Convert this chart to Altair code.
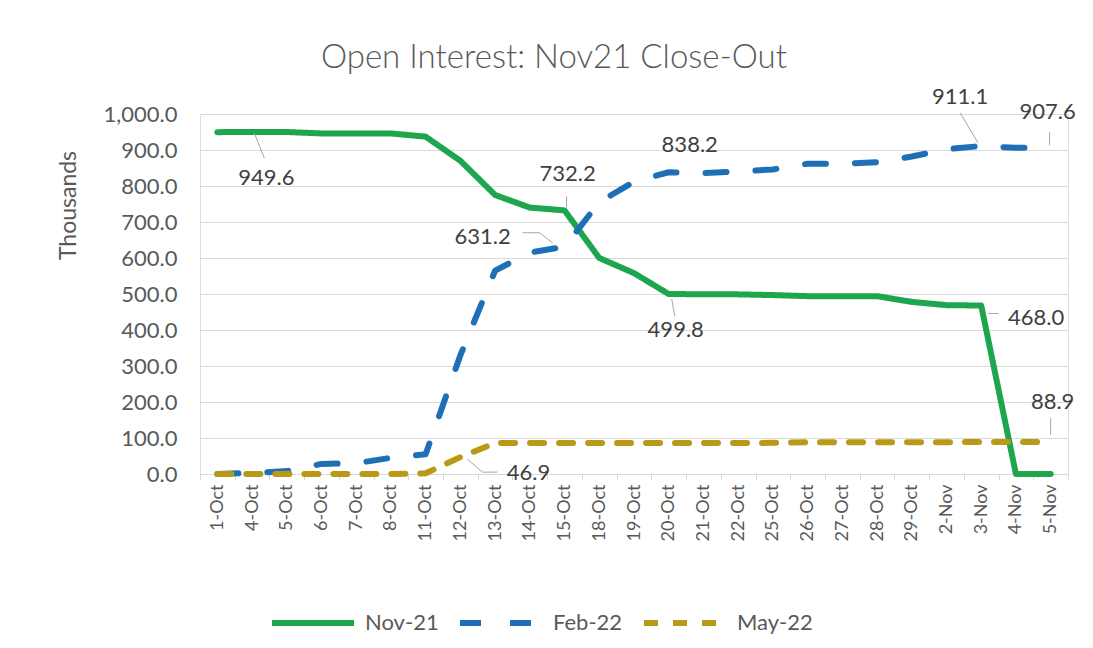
import altair as alt
import pandas as pd

# ---------------- data ----------------
dates = ["1-Oct", "4-Oct", "5-Oct", "6-Oct", "7-Oct", "8-Oct", "11-Oct", "12-Oct",
         "13-Oct", "14-Oct", "15-Oct", "18-Oct", "19-Oct", "20-Oct", "21-Oct", "22-Oct",
         "25-Oct", "26-Oct", "27-Oct", "28-Oct", "29-Oct", "2-Nov", "3-Nov", "4-Nov", "5-Nov"]

nov21 = [949.6, 950.0, 950.0, 946.0, 946.0, 946.0, 937.0, 870.0, 775.0, 740.0, 732.2, 600.0,
         558.0, 499.8, 499.5, 499.0, 497.0, 494.0, 494.0, 494.0, 478.0, 469.0, 468.0, 0.0, 0.0]
feb22 = [0.0, 3.0, 8.0, 28.0, 30.0, 45.0, 55.0, 330.0, 565.0, 615.0, 631.2, 755.0,
         812.0, 838.2, 836.0, 840.0, 846.0, 862.0, 862.0, 866.0, 882.0, 902.0, 911.1, 906.0, 907.6]
may22 = [0.0, 0.0, 0.0, 0.0, 0.0, 0.0, 2.0, 46.9, 86.0, 86.0, 86.0, 86.0,
         86.0, 86.0, 86.0, 86.0, 86.5, 88.0, 88.0, 88.0, 88.0, 88.5, 88.8, 88.9, 88.9]

series_names = ["Nov-21", "Feb-22", "May-22"]
series_values = [nov21, feb22, may22]
y_ticks = [0, 100, 200, 300, 400, 500, 600, 700, 800, 900, 1000]

# labelled points: (series, date)
label_points = [("Nov-21", "1-Oct"), ("Nov-21", "15-Oct"), ("Nov-21", "20-Oct"),
                ("Nov-21", "3-Nov"), ("Feb-22", "15-Oct"), ("Feb-22", "20-Oct"),
                ("Feb-22", "3-Nov"), ("Feb-22", "5-Nov"), ("May-22", "12-Oct"),
                ("May-22", "5-Nov")]

# ---------------- styles ----------------
colors = ["#1EA64E", "#1F6FB6", "#B89A16"]
dashes = [[1, 0], [21, 29], [14, 15]]
FONT = "Lato"
GREY = "#595959"
LW = 6
# label offsets (dx, dy) in pixels from the data point
label_offsets = {
    ("Nov-21", "1-Oct"): (49, 46),
    ("Nov-21", "15-Oct"): (3, -36),
    ("Nov-21", "20-Oct"): (7, 36),
    ("Nov-21", "3-Nov"): (55, 12),
    ("Feb-22", "15-Oct"): (-82, -10),
    ("Feb-22", "20-Oct"): (21, -27),
    ("Feb-22", "3-Nov"): (-21, -49),
    ("Feb-22", "5-Nov"): (-3, -35),
    ("May-22", "12-Oct"): (68, 16),
    ("May-22", "5-Nov"): (2, -40),
}
# leader-line segments (x1, y1, x2, y2) as pixel offsets from the data point
leader_offsets = {
    ("Nov-21", "1-Oct"): [(37, 1, 47, 26)],
    ("Nov-21", "15-Oct"): [(2, -14, 2, -3)],
    ("Nov-21", "20-Oct"): [(3, 5, 6, 22)],
    ("Nov-21", "3-Nov"): [(7, 8, 17, 8)],
    ("Feb-22", "15-Oct"): [(-42, -14, -25, -14), (-25, -14, -12, -4)],
    ("Feb-22", "3-Nov"): [(-21, -33, -3, -3)],
    ("Feb-22", "5-Nov"): [(-1, -15, -1, -2)],
    ("May-22", "12-Oct"): [(7, 2, 22, 15), (22, 15, 37, 15)],
    ("May-22", "5-Nov"): [(0, -24, 0, -7)],
}

rows = []
for name, vals in zip(series_names, series_values):
    for d, v in zip(dates, vals):
        rows.append({"date": d, "value": v, "series": name})
df = pd.DataFrame(rows)

W, H = 868, 360

x_enc = alt.X(
    "date:N", sort=dates, bandPosition=0.5,
    scale=alt.Scale(type="band", paddingInner=0, paddingOuter=0),
    axis=alt.Axis(title=None, labelAngle=270, tickBand="extent", labelFont=FONT,
                  labelFontSize=18, labelColor=GREY, domainColor="#d9d9d9",
                  tickColor="#d9d9d9", tickSize=6, labelPadding=4),
)
y_enc = alt.Y(
    "value:Q", scale=alt.Scale(domain=[0, 1000], nice=False),
    axis=alt.Axis(values=y_ticks, format=",.1f", title="Thousands", grid=True,
                  gridColor="#d9d9d9", domain=False, ticks=False, labelFont=FONT,
                  labelFontSize=22, labelColor=GREY, labelPadding=23,
                  labelOverlap=False,
                  titleFont=FONT, titleFontSize=23, titleFontWeight="normal",
                  titleColor=GREY, titleAngle=270, titleX=-132, titleY=91,
                  titleAlign="center", titleBaseline="middle"),
)

legend = alt.Legend(title=None, orient="none", legendX=69, legendY=465,
                    direction="horizontal", symbolType="stroke", symbolSize=6724,
                    symbolStrokeWidth=LW, labelFont=FONT, labelFontSize=22,
                    labelColor=GREY, columnPadding=9, labelOffset=8, padding=0)

lines = alt.Chart(df).mark_line(strokeWidth=LW, strokeCap="round",
                                strokeJoin="round").encode(
    x=x_enc, y=y_enc,
    color=alt.Color("series:N", sort=series_names,
                    scale=alt.Scale(domain=series_names, range=colors), legend=legend),
    strokeDash=alt.StrokeDash("series:N", sort=series_names,
                              scale=alt.Scale(domain=series_names, range=dashes),
                              legend=legend),
)

layers = [lines]
for key in label_points:
    s, d = key
    sub = df[(df.series == s) & (df.date == d)].copy()
    sub["text"] = sub["value"].map(lambda v: f"{v:,.1f}")
    for (x1, y1, x2, y2) in leader_offsets.get(key, []):
        layers.append(
            alt.Chart(sub).mark_rule(color="#a6a6a6", strokeWidth=1,
                                     xOffset=x1, yOffset=y1, x2Offset=x2, y2Offset=y2)
            .encode(x=x_enc, x2=alt.X2("date", bandPosition=0.5),
                    y=y_enc, y2=alt.Y2("value"))
        )
    dx, dy = label_offsets[key]
    layers.append(
        alt.Chart(sub).mark_text(font=FONT, fontSize=22, color="#404040",
                                 dx=dx, dy=dy, align="center", baseline="middle")
        .encode(x=x_enc, y=y_enc, text="text:N")
    )

chart = alt.layer(*layers).properties(
    width=W, height=H,
    title=alt.TitleParams("Open Interest: Nov21 Close-Out", font=FONT, fontSize=33,
                          fontWeight=300, color=GREY, anchor="middle",
                          dx=-80, offset=11),
    autosize=alt.AutoSizeParams(type="none"),
    padding={"left": 192, "top": 106, "right": 17, "bottom": 166},
).configure_view(stroke=None).configure(background="white")

chart.save("out.html", embed_options={"renderer": "svg", "actions": False})
